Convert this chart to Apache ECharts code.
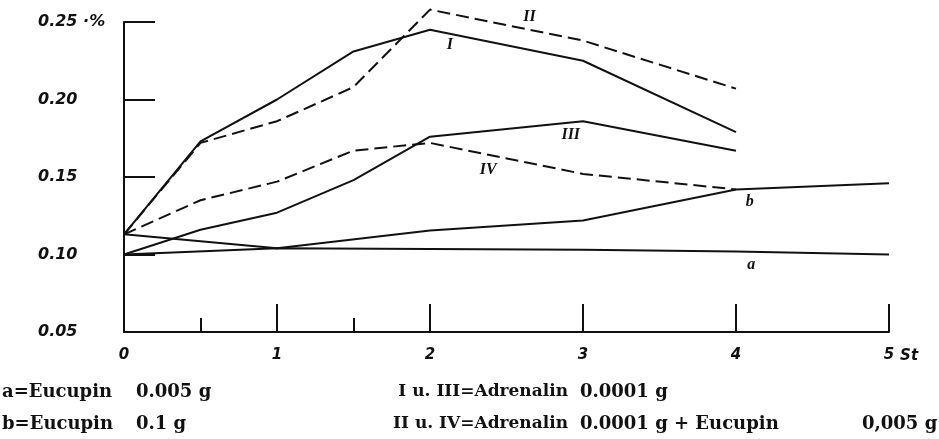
<!DOCTYPE html>
<html>
<head>
<meta charset="utf-8">
<title>Blutzucker nach Adrenalin und Eucupin</title>
<script src="https://cdn.jsdelivr.net/npm/echarts@6.0.0/dist/echarts.min.js"></script>
<style>
  html, body { margin: 0; padding: 0; background: #ffffff; }
  #chart { width: 939px; height: 439px; }
</style>
</head>
<body>
<div id="chart"></div>
<script>
// Zeit in Stunden
const hours = [0, 0.5, 1, 1.5, 2, 3, 4];
const hoursAB = [0, 1, 2, 3, 4, 5];

// Blutzucker in %
const curveI = [0.113, 0.173, 0.200, 0.231, 0.245, 0.225, 0.179];
const curveII = [0.113, 0.172, 0.186, 0.208, 0.258, 0.238, 0.207];
const curveIII = [0.100, 0.116, 0.127, 0.148, 0.176, 0.186, 0.167];
const curveIV = [0.113, 0.135, 0.147, 0.167, 0.172, 0.152, 0.142];
const curveA = [0.100, 0.104, 0.1035, 0.103, 0.102, 0.100];
const curveB = [0.113, 0.104, 0.1155, 0.122, 0.142, 0.146];

const xTicks = [0, 1, 2, 3, 4, 5];
const halfTicks = [0.5, 1.5];
const yTicks = [0.05, 0.10, 0.15, 0.20, 0.25];

const ink = "#111111";
const tickFont = "'DejaVu Sans', sans-serif";
const textFont = "'DejaVu Serif', serif";
const markFont = "'Liberation Serif', serif";

function pairs(xs, ys) {
  return xs.map((x, i) => [x, ys[i]]);
}

// kurze Beschriftung an der Kurve (I, II, a, b ...)
function tag(text, coord, offset) {
  return {
    symbol: "circle",
    symbolSize: 0,
    silent: true,
    label: {
      show: true,
      position: "inside",
      formatter: text,
      offset: offset || [0, 0],
      color: ink,
      fontFamily: markFont,
      fontStyle: "italic",
      fontWeight: "bold",
      fontSize: 16,
    },
    data: [{ coord: coord }],
  };
}

function curve(name, xs, ys, dashed, labelCoord, labelOffset) {
  return {
    name: name,
    type: "line",
    data: pairs(xs, ys),
    showSymbol: false,
    clip: false,
    lineStyle: {
      color: ink,
      width: 2,
      type: dashed ? [13, 6] : "solid",
    },
    markPoint: tag(name, labelCoord, labelOffset),
  };
}

function note(text, x, y, align, size) {
  return {
    type: "text",
    x: x,
    y: y,
    style: {
      text: text,
      fill: ink,
      font: "bold " + (size || 18) + "px " + textFont,
      align: align || "left",
      verticalAlign: "middle",
    },
  };
}

const chart = echarts.init(document.getElementById("chart"));

const option = {
  animation: false,
  backgroundColor: "#ffffff",
  grid: {
    left: 124,
    right: 50,
    top: 22,
    bottom: 107,
    containLabel: false,
  },
  xAxis: [
    {
      type: "value",
      min: 0,
      max: 5,
      interval: 1,
      position: "bottom",
      name: "St",
      nameLocation: "end",
      nameGap: 6,
      nameTextStyle: {
        color: ink,
        fontFamily: tickFont,
        fontStyle: "italic",
        fontWeight: "bold",
        fontSize: 15,
        verticalAlign: "top",
        padding: [17, 0, 0, 0],
      },
      axisLine: { lineStyle: { color: ink, width: 2 } },
      axisTick: {
        inside: true,
        length: 28,
        lineStyle: { color: ink, width: 2 },
        customValues: xTicks,
      },
      axisLabel: {
        color: ink,
        margin: 16,
        fontFamily: tickFont,
        fontStyle: "italic",
        fontWeight: "bold",
        fontSize: 15,
        customValues: xTicks,
      },
      splitLine: { show: false },
    },
    {
      // halbe Stunden
      type: "value",
      min: 0,
      max: 5,
      position: "bottom",
      axisLine: { show: false },
      axisTick: {
        inside: true,
        length: 14,
        lineStyle: { color: ink, width: 2 },
        customValues: halfTicks,
      },
      axisLabel: { show: false },
      splitLine: { show: false },
    },
  ],
  yAxis: {
    type: "value",
    min: 0.05,
    max: 0.25,
    interval: 0.05,
    axisLine: { show: true, lineStyle: { color: ink, width: 2 } },
    axisTick: {
      show: true,
      inside: true,
      length: 31,
      lineStyle: { color: ink, width: 2 },
      customValues: yTicks,
    },
    axisLabel: {
      color: ink,
      align: "left",
      margin: 86,
      fontFamily: tickFont,
      fontStyle: "italic",
      fontWeight: "bold",
      fontSize: 16,
      customValues: yTicks,
      formatter: (v) => (Math.abs(v - 0.25) < 1e-6 ? v.toFixed(2) + " ·%" : v.toFixed(2)),
    },
    splitLine: { show: false },
  },
  series: [
    curve("I", hours, curveI, false, [2.13, 0.235]),
    curve("II", hours, curveII, true, [2.65, 0.248], [0, -8]),
    curve("III", hours, curveIII, false, [2.92, 0.177]),
    curve("IV", hours, curveIV, true, [2.38, 0.1545]),
    curve("a", hoursAB, curveA, false, [4.1, 0.093]),
    curve("b", hoursAB, curveB, false, [4.09, 0.134]),
  ],
  graphic: [
    note("a=Eucupin", 2, 392),
    note("0.005 g", 136, 392),
    note("b=Eucupin", 2, 424),
    note("0.1 g", 136, 424),
    note("I u. III=Adrenalin", 568, 392, "right", 17),
    note("0.0001 g", 580, 392),
    note("II u. IV=Adrenalin", 568, 424, "right", 17),
    note("0.0001 g + Eucupin", 580, 424),
    note("0,005 g", 862, 424),
  ],
};

chart.setOption(option);
window.addEventListener("resize", () => {
  chart.resize();
});
</script>
</body>
</html>
